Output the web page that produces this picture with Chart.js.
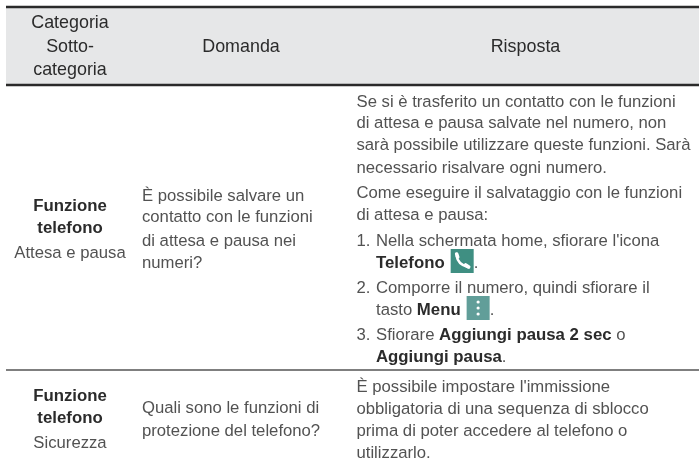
<!DOCTYPE html>
<html lang="it">
<head>
<meta charset="UTF-8">
<title>Funzione telefono</title>
<script src="https://cdn.jsdelivr.net/npm/chart.js"></script>
<style>
  html, body { margin: 0; padding: 0; background: #fff; }
  canvas { display: block; }
</style>
</head>
<body>
<canvas id="tableChart" width="699" height="463"></canvas>
<script>
// table content, one run = [text, bold]
const headerCategory = ['Categoria', 'Sotto-', 'categoria'];
const headerQuestion = 'Domanda';
const headerAnswer = 'Risposta';

const row1Category = [[['Funzione', true]], [['telefono', true]], [['Attesa e pausa', false]]];
const row1Question = ['È possibile salvare un', 'contatto con le funzioni', 'di attesa e pausa nei', 'numeri?'];
const row1Answer = [
  [['Se si è trasferito un contatto con le funzioni', false]],
  [['di attesa e pausa salvate nel numero, non', false]],
  [['sarà possibile utilizzare queste funzioni. Sarà', false]],
  [['necessario risalvare ogni numero.', false]],
  [['Come eseguire il salvataggio con le funzioni', false]],
  [['di attesa e pausa:', false]],
  [['Nella schermata home, sfiorare l\'icona', false]],
  [['Telefono', true]],
  [['Comporre il numero, quindi sfiorare il', false]],
  [['tasto ', false], ['Menu', true]],
  [['Sfiorare ', false], ['Aggiungi pausa 2 sec', true], [' o', false]],
  [['Aggiungi pausa', true], ['.', false]]
];
const listMarkers = { 6: '1.', 8: '2.', 10: '3.' };

const row2Category = [[['Funzione', true]], [['telefono', true]], [['Sicurezza', false]]];
const row2Question = ['Quali sono le funzioni di', 'protezione del telefono?'];
const row2Answer = ['È possibile impostare l\'immissione', 'obbligatoria di una sequenza di sblocco', 'prima di poter accedere al telefono o', 'utilizzarlo.'];

// baselines of each text block
const headerCategoryY = [28, 52, 75];
const headerLabelY = 52;
const row1CategoryY = [211, 233, 258];
const row1QuestionY = [201, 222, 246, 268];
const row1AnswerY = [107, 128, 150, 173, 198, 220, 246, 268, 293, 315, 340, 362];
const row2CategoryY = [401, 423, 448];
const row2QuestionY = [413, 436];
const row2AnswerY = [392, 414, 436, 458];

const ruleHeavyY = [7, 85];
const ruleLightY = [370];
const tableLeft = 6;
const tableRight = 699;
const colCenter1 = 70;
const colLeft2 = 142;
const colCenter2 = 241;
const colLeft3 = 356.5;
const colCenter3 = 525.5;
const listIndent = 376;

const regular = '16.7px "Liberation Sans"';
const boldFont = 'bold 16.8px "Liberation Sans"';
const headerFont = '17.9px "Liberation Sans"';
const greyText = '#525252';
const darkText = '#2b2b2b';

function runsWidth(ctx, runs) {
  return runs.reduce((w, r) => {
    ctx.font = r[1] ? boldFont : regular;
    return w + ctx.measureText(r[0]).width;
  }, 0);
}

function drawRuns(ctx, runs, x, y) {
  runs.forEach(r => {
    ctx.font = r[1] ? boldFont : regular;
    ctx.fillStyle = r[1] ? darkText : greyText;
    ctx.fillText(r[0], x, y);
    x += ctx.measureText(r[0]).width;
  });
  return x;
}

function drawPhoneIcon(ctx, x, y) {
  ctx.fillStyle = '#3f8f82';
  ctx.fillRect(x, y, 23, 24);
  ctx.strokeStyle = '#fff';
  ctx.lineCap = 'round';
  ctx.lineWidth = 2.4;
  ctx.beginPath();
  ctx.moveTo(x + 6, y + 7);
  ctx.quadraticCurveTo(x + 7, y + 15, x + 17, y + 18);
  ctx.stroke();
  ctx.lineWidth = 3.6;
  ctx.beginPath();
  ctx.moveTo(x + 6, y + 5);
  ctx.lineTo(x + 7, y + 8);
  ctx.moveTo(x + 15, y + 16);
  ctx.lineTo(x + 18, y + 18);
  ctx.stroke();
}

function drawMenuIcon(ctx, x, y) {
  ctx.fillStyle = '#619e99';
  ctx.fillRect(x, y, 23, 24);
  ctx.fillStyle = '#fff';
  [6, 12, 18].forEach(d => {
    ctx.beginPath();
    ctx.arc(x + 11.5, y + d, 1.6, 0, Math.PI * 2);
    ctx.fill();
  });
}

const tablePlugin = {
  id: 'tablePlugin',
  beforeDatasetsDraw(chart) {
    const { ctx, scales: { x, y } } = chart;
    ctx.save();
    ctx.fillStyle = '#e6e7e8';
    ctx.fillRect(x.getPixelForValue(tableLeft), y.getPixelForValue(ruleHeavyY[0]),
      x.getPixelForValue(tableRight) - x.getPixelForValue(tableLeft),
      y.getPixelForValue(ruleHeavyY[1]) - y.getPixelForValue(ruleHeavyY[0]));
    ctx.restore();
  },
  afterDraw(chart) {
    const { ctx, scales: { x, y } } = chart;
    ctx.save();
    ctx.textBaseline = 'alphabetic';

    // header
    ctx.font = headerFont;
    ctx.fillStyle = darkText;
    ctx.textAlign = 'center';
    headerCategory.forEach((t, i) => ctx.fillText(t, x.getPixelForValue(colCenter1), y.getPixelForValue(headerCategoryY[i])));
    ctx.fillText(headerQuestion, x.getPixelForValue(colCenter2), y.getPixelForValue(headerLabelY));
    ctx.fillText(headerAnswer, x.getPixelForValue(colCenter3), y.getPixelForValue(headerLabelY));

    // first column, centred
    ctx.textAlign = 'left';
    const centred = (rows, ys) => rows.forEach((runs, i) => {
      const w = runsWidth(ctx, runs);
      drawRuns(ctx, runs, x.getPixelForValue(colCenter1) - w / 2, y.getPixelForValue(ys[i]));
    });
    centred(row1Category, row1CategoryY);
    centred(row2Category, row2CategoryY);

    // question column
    ctx.font = regular;
    ctx.fillStyle = greyText;
    row1Question.forEach((t, i) => ctx.fillText(t, x.getPixelForValue(colLeft2), y.getPixelForValue(row1QuestionY[i])));
    row2Question.forEach((t, i) => ctx.fillText(t, x.getPixelForValue(colLeft2), y.getPixelForValue(row2QuestionY[i])));

    // answer column, the numbered steps hang from listIndent
    row1Answer.forEach((runs, i) => {
      const startX = x.getPixelForValue(i >= 6 ? listIndent : colLeft3);
      const py = y.getPixelForValue(row1AnswerY[i]);
      if (listMarkers[i]) {
        ctx.font = regular;
        ctx.fillStyle = greyText;
        ctx.fillText(listMarkers[i], x.getPixelForValue(colLeft3), py);
      }
      const endX = drawRuns(ctx, runs, startX, py);
      if (i === 7 || i === 9) {
        if (i === 7) drawPhoneIcon(ctx, endX + 6, py - 19);
        else drawMenuIcon(ctx, endX + 6, py - 19);
        ctx.font = regular;
        ctx.fillStyle = greyText;
        ctx.fillText('.', endX + 29, py);
      }
    });
    ctx.font = regular;
    ctx.fillStyle = greyText;
    row2Answer.forEach((t, i) => ctx.fillText(t, x.getPixelForValue(colLeft3), y.getPixelForValue(row2AnswerY[i])));
    ctx.restore();
  }
};

const ruleDataset = (yv, width, color) => ({
  data: [{ x: tableLeft, y: yv }, { x: tableRight, y: yv }],
  showLine: true,
  pointRadius: 0,
  borderWidth: width,
  borderColor: color
});

new Chart(document.getElementById('tableChart'), {
  type: 'scatter',
  data: {
    datasets: [
      ...ruleHeavyY.map(v => ruleDataset(v, 2.4, '#2a2a2a')),
      ...ruleLightY.map(v => ruleDataset(v, 1.4, '#555555'))
    ]
  },
  options: {
    responsive: false,
    animation: false,
    layout: { padding: 0 },
    clip: false,
    plugins: { legend: { display: false }, tooltip: { enabled: false } },
    scales: {
      x: { type: 'linear', min: 0, max: 699, display: false },
      y: { type: 'linear', min: 0, max: 463, reverse: true, display: false }
    }
  },
  plugins: [tablePlugin]
});
</script>
</body>
</html>
